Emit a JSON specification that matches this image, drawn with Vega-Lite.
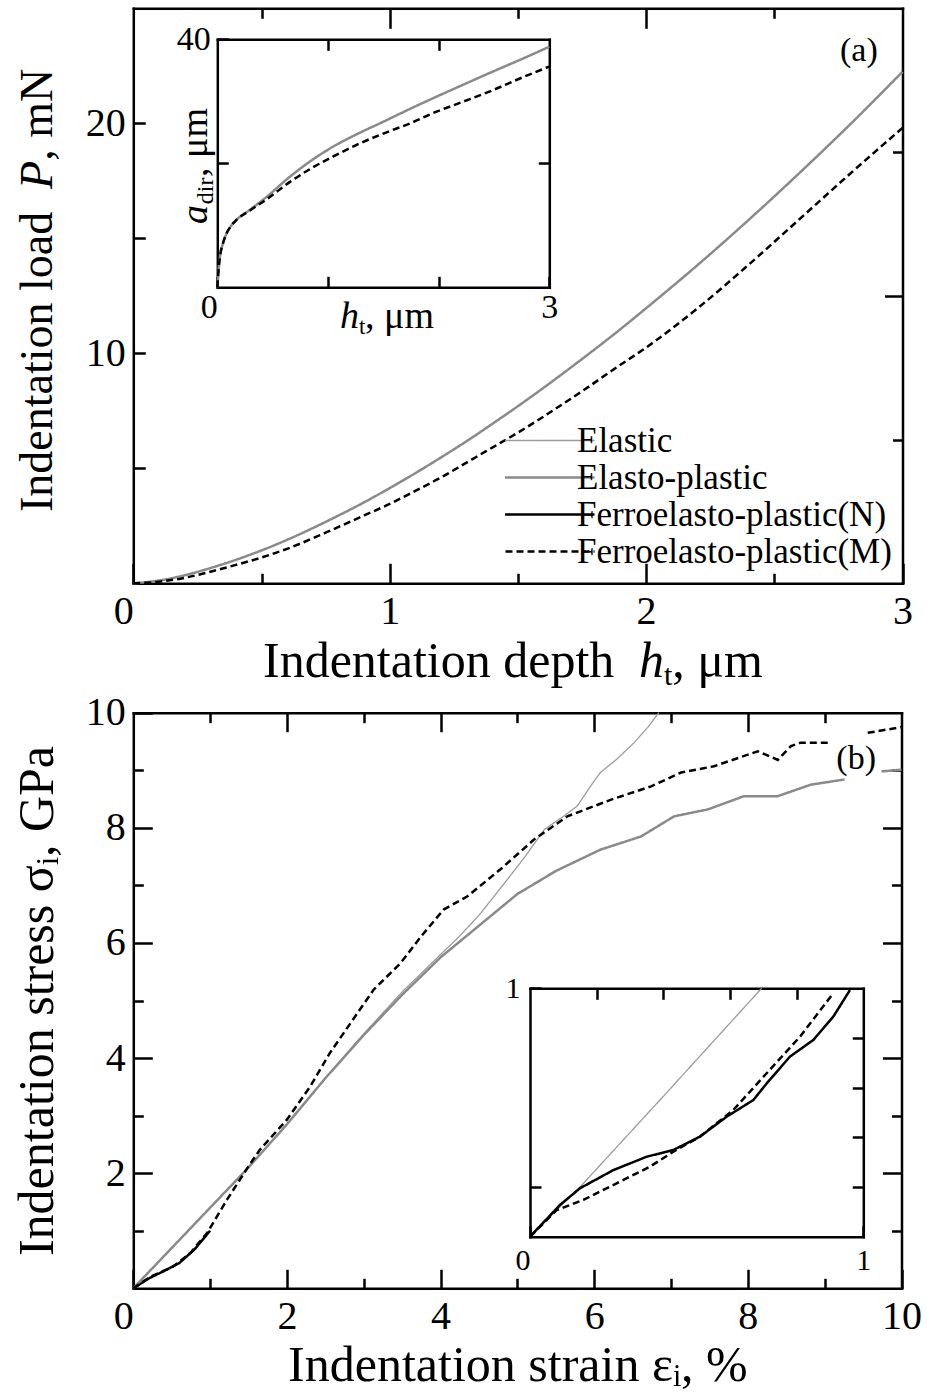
{
  "$schema": "https://vega.github.io/schema/vega-lite/v6.json",
  "width": 927,
  "height": 1393,
  "autosize": {"type": "none"},
  "padding": 0,
  "background": "white",
  "config": {
    "font": "Liberation Serif",
    "view": {"stroke": null},
    "text": {"font": "Liberation Serif", "color": "#000000", "align": "left", "baseline": "alphabetic"},
    "axis": {
      "grid": false,
      "domainColor": "#000000",
      "domainWidth": 2.5,
      "domainCap": "square",
      "tickColor": "#000000",
      "tickWidth": 2.5,
      "labelColor": "#000000",
      "titleColor": "#000000",
      "labelFont": "Liberation Serif",
      "titleFont": "Liberation Serif",
      "titleFontWeight": "normal",
      "labelOverlap": false,
      "labelFlush": false,
      "labelBound": false,
      "format": "d"
    }
  },
  "datasets": {
    "amain": [
      {"series": "Elasto-plastic", "x": 0, "y": 0},
      {"series": "Elasto-plastic", "x": 0.1, "y": 0.12},
      {"series": "Elasto-plastic", "x": 0.2, "y": 0.35},
      {"series": "Elasto-plastic", "x": 0.3, "y": 0.66},
      {"series": "Elasto-plastic", "x": 0.4, "y": 1.02},
      {"series": "Elasto-plastic", "x": 0.5, "y": 1.43},
      {"series": "Elasto-plastic", "x": 0.6, "y": 1.89},
      {"series": "Elasto-plastic", "x": 0.75, "y": 2.67},
      {"series": "Elasto-plastic", "x": 0.9, "y": 3.52},
      {"series": "Elasto-plastic", "x": 1.0, "y": 4.14},
      {"series": "Elasto-plastic", "x": 1.1, "y": 4.79},
      {"series": "Elasto-plastic", "x": 1.2, "y": 5.47},
      {"series": "Elasto-plastic", "x": 1.3, "y": 6.18},
      {"series": "Elasto-plastic", "x": 1.4, "y": 6.93},
      {"series": "Elasto-plastic", "x": 1.5, "y": 7.7},
      {"series": "Elasto-plastic", "x": 1.6, "y": 8.5},
      {"series": "Elasto-plastic", "x": 1.75, "y": 9.75},
      {"series": "Elasto-plastic", "x": 1.9, "y": 11.05},
      {"series": "Elasto-plastic", "x": 2.0, "y": 11.96},
      {"series": "Elasto-plastic", "x": 2.2, "y": 13.83},
      {"series": "Elasto-plastic", "x": 2.4, "y": 15.8},
      {"series": "Elasto-plastic", "x": 2.6, "y": 17.86},
      {"series": "Elasto-plastic", "x": 2.8, "y": 20.0},
      {"series": "Elasto-plastic", "x": 3.0, "y": 22.24},
      {"series": "Ferroelasto-plastic(M)", "x": 0, "y": 0},
      {"series": "Ferroelasto-plastic(M)", "x": 0.1, "y": 0.07},
      {"series": "Ferroelasto-plastic(M)", "x": 0.2, "y": 0.24},
      {"series": "Ferroelasto-plastic(M)", "x": 0.3, "y": 0.5},
      {"series": "Ferroelasto-plastic(M)", "x": 0.4, "y": 0.8},
      {"series": "Ferroelasto-plastic(M)", "x": 0.5, "y": 1.12},
      {"series": "Ferroelasto-plastic(M)", "x": 0.6, "y": 1.5},
      {"series": "Ferroelasto-plastic(M)", "x": 0.75, "y": 2.2},
      {"series": "Ferroelasto-plastic(M)", "x": 0.9, "y": 2.95},
      {"series": "Ferroelasto-plastic(M)", "x": 1.0, "y": 3.45},
      {"series": "Ferroelasto-plastic(M)", "x": 1.1, "y": 4.02},
      {"series": "Ferroelasto-plastic(M)", "x": 1.2, "y": 4.6},
      {"series": "Ferroelasto-plastic(M)", "x": 1.3, "y": 5.25},
      {"series": "Ferroelasto-plastic(M)", "x": 1.4, "y": 5.9},
      {"series": "Ferroelasto-plastic(M)", "x": 1.5, "y": 6.55},
      {"series": "Ferroelasto-plastic(M)", "x": 1.6, "y": 7.25},
      {"series": "Ferroelasto-plastic(M)", "x": 1.75, "y": 8.35},
      {"series": "Ferroelasto-plastic(M)", "x": 1.9, "y": 9.5},
      {"series": "Ferroelasto-plastic(M)", "x": 2.0, "y": 10.25},
      {"series": "Ferroelasto-plastic(M)", "x": 2.2, "y": 11.95},
      {"series": "Ferroelasto-plastic(M)", "x": 2.4, "y": 13.85},
      {"series": "Ferroelasto-plastic(M)", "x": 2.6, "y": 15.85},
      {"series": "Ferroelasto-plastic(M)", "x": 2.8, "y": 17.85},
      {"series": "Ferroelasto-plastic(M)", "x": 3.0, "y": 19.8}
    ],
    "ainset": [
      {"series": "Elasto-plastic", "x": 0, "y": 0},
      {"series": "Elasto-plastic", "x": 0.01, "y": 2.5},
      {"series": "Elasto-plastic", "x": 0.024, "y": 4.95},
      {"series": "Elasto-plastic", "x": 0.05, "y": 7.0},
      {"series": "Elasto-plastic", "x": 0.084, "y": 8.7},
      {"series": "Elasto-plastic", "x": 0.12, "y": 9.8},
      {"series": "Elasto-plastic", "x": 0.175, "y": 10.9},
      {"series": "Elasto-plastic", "x": 0.295, "y": 12.5},
      {"series": "Elasto-plastic", "x": 0.446, "y": 14.6},
      {"series": "Elasto-plastic", "x": 0.657, "y": 17.85},
      {"series": "Elasto-plastic", "x": 0.85, "y": 20.45},
      {"series": "Elasto-plastic", "x": 1.048, "y": 22.7},
      {"series": "Elasto-plastic", "x": 1.25, "y": 24.6},
      {"series": "Elasto-plastic", "x": 1.5, "y": 26.7},
      {"series": "Elasto-plastic", "x": 1.75, "y": 28.85},
      {"series": "Elasto-plastic", "x": 1.95, "y": 30.5},
      {"series": "Elasto-plastic", "x": 2.2, "y": 32.5},
      {"series": "Elasto-plastic", "x": 2.49, "y": 34.8},
      {"series": "Elasto-plastic", "x": 2.75, "y": 36.8},
      {"series": "Elasto-plastic", "x": 3.0, "y": 38.8},
      {"series": "Ferroelasto-plastic(M)", "x": 0, "y": 0},
      {"series": "Ferroelasto-plastic(M)", "x": 0.01, "y": 2.5},
      {"series": "Ferroelasto-plastic(M)", "x": 0.024, "y": 4.95},
      {"series": "Ferroelasto-plastic(M)", "x": 0.05, "y": 7.0},
      {"series": "Ferroelasto-plastic(M)", "x": 0.084, "y": 8.7},
      {"series": "Ferroelasto-plastic(M)", "x": 0.12, "y": 9.8},
      {"series": "Ferroelasto-plastic(M)", "x": 0.175, "y": 10.9},
      {"series": "Ferroelasto-plastic(M)", "x": 0.295, "y": 12.4},
      {"series": "Ferroelasto-plastic(M)", "x": 0.446, "y": 14.2},
      {"series": "Ferroelasto-plastic(M)", "x": 0.657, "y": 17.0},
      {"series": "Ferroelasto-plastic(M)", "x": 0.85, "y": 19.2},
      {"series": "Ferroelasto-plastic(M)", "x": 1.048, "y": 21.1},
      {"series": "Ferroelasto-plastic(M)", "x": 1.25, "y": 22.9},
      {"series": "Ferroelasto-plastic(M)", "x": 1.5, "y": 24.8},
      {"series": "Ferroelasto-plastic(M)", "x": 1.75, "y": 26.5},
      {"series": "Ferroelasto-plastic(M)", "x": 1.95, "y": 28.1},
      {"series": "Ferroelasto-plastic(M)", "x": 2.2, "y": 29.8},
      {"series": "Ferroelasto-plastic(M)", "x": 2.49, "y": 31.8},
      {"series": "Ferroelasto-plastic(M)", "x": 2.75, "y": 33.8},
      {"series": "Ferroelasto-plastic(M)", "x": 3.0, "y": 35.6}
    ],
    "bmain": [
      {"series": "Ferroelasto-plastic(N)", "x": 0, "y": 0},
      {"series": "Ferroelasto-plastic(N)", "x": 0.2, "y": 0.17},
      {"series": "Ferroelasto-plastic(N)", "x": 0.4, "y": 0.3},
      {"series": "Ferroelasto-plastic(N)", "x": 0.6, "y": 0.44},
      {"series": "Ferroelasto-plastic(N)", "x": 0.8, "y": 0.68},
      {"series": "Ferroelasto-plastic(N)", "x": 1.0, "y": 1.0},
      {"series": "Elastic", "x": 0, "y": 0},
      {"series": "Elastic", "x": 0.5, "y": 0.7},
      {"series": "Elastic", "x": 1.0, "y": 1.4},
      {"series": "Elastic", "x": 1.5, "y": 2.1},
      {"series": "Elastic", "x": 2.0, "y": 2.85},
      {"series": "Elastic", "x": 2.5, "y": 3.65},
      {"series": "Elastic", "x": 3.0, "y": 4.42},
      {"series": "Elastic", "x": 3.5, "y": 5.15},
      {"series": "Elastic", "x": 4.0, "y": 5.8},
      {"series": "Elastic", "x": 4.22, "y": 6.08},
      {"series": "Elastic", "x": 4.5, "y": 6.48},
      {"series": "Elastic", "x": 4.78, "y": 6.95},
      {"series": "Elastic", "x": 5.1, "y": 7.5},
      {"series": "Elastic", "x": 5.35, "y": 7.97},
      {"series": "Elastic", "x": 5.6, "y": 8.2},
      {"series": "Elastic", "x": 5.78, "y": 8.38},
      {"series": "Elastic", "x": 5.95, "y": 8.72},
      {"series": "Elastic", "x": 6.08, "y": 8.96},
      {"series": "Elastic", "x": 6.3, "y": 9.2},
      {"series": "Elastic", "x": 6.52, "y": 9.48},
      {"series": "Elastic", "x": 6.7, "y": 9.75},
      {"series": "Elastic", "x": 6.84, "y": 10.0},
      {"series": "Elasto-plastic", "x": 0, "y": 0},
      {"series": "Elasto-plastic", "x": 0.5, "y": 0.7},
      {"series": "Elasto-plastic", "x": 1.0, "y": 1.4},
      {"series": "Elasto-plastic", "x": 1.5, "y": 2.1},
      {"series": "Elasto-plastic", "x": 2.0, "y": 2.85},
      {"series": "Elasto-plastic", "x": 2.5, "y": 3.65},
      {"series": "Elasto-plastic", "x": 3.0, "y": 4.4},
      {"series": "Elasto-plastic", "x": 3.5, "y": 5.1},
      {"series": "Elasto-plastic", "x": 4.0, "y": 5.75},
      {"series": "Elasto-plastic", "x": 4.5, "y": 6.3},
      {"series": "Elasto-plastic", "x": 5.0, "y": 6.85},
      {"series": "Elasto-plastic", "x": 5.5, "y": 7.25},
      {"series": "Elasto-plastic", "x": 6.08, "y": 7.62},
      {"series": "Elasto-plastic", "x": 6.61, "y": 7.85},
      {"series": "Elasto-plastic", "x": 7.04, "y": 8.2},
      {"series": "Elasto-plastic", "x": 7.48, "y": 8.32},
      {"series": "Elasto-plastic", "x": 7.95, "y": 8.55},
      {"series": "Elasto-plastic", "x": 8.39, "y": 8.55},
      {"series": "Elasto-plastic", "x": 8.82, "y": 8.75},
      {"series": "Elasto-plastic", "x": 9.26, "y": 8.84},
      {"series": "Elasto-plastic", "x": 9.5, "y": null},
      {"series": "Elasto-plastic", "x": 9.74, "y": 8.98},
      {"series": "Elasto-plastic", "x": 10.0, "y": 9.01},
      {"series": "Ferroelasto-plastic(M)", "x": 0, "y": 0},
      {"series": "Ferroelasto-plastic(M)", "x": 0.22, "y": 0.2},
      {"series": "Ferroelasto-plastic(M)", "x": 0.52, "y": 0.38},
      {"series": "Ferroelasto-plastic(M)", "x": 0.74, "y": 0.61},
      {"series": "Ferroelasto-plastic(M)", "x": 0.96, "y": 0.96},
      {"series": "Ferroelasto-plastic(M)", "x": 1.22, "y": 1.54},
      {"series": "Ferroelasto-plastic(M)", "x": 1.48, "y": 2.08},
      {"series": "Ferroelasto-plastic(M)", "x": 1.65, "y": 2.41},
      {"series": "Ferroelasto-plastic(M)", "x": 2.0, "y": 2.93},
      {"series": "Ferroelasto-plastic(M)", "x": 2.3, "y": 3.5},
      {"series": "Ferroelasto-plastic(M)", "x": 2.56, "y": 4.09},
      {"series": "Ferroelasto-plastic(M)", "x": 2.85, "y": 4.65},
      {"series": "Ferroelasto-plastic(M)", "x": 3.13, "y": 5.19},
      {"series": "Ferroelasto-plastic(M)", "x": 3.48, "y": 5.65},
      {"series": "Ferroelasto-plastic(M)", "x": 3.75, "y": 6.12},
      {"series": "Ferroelasto-plastic(M)", "x": 4.04, "y": 6.58},
      {"series": "Ferroelasto-plastic(M)", "x": 4.35, "y": 6.81},
      {"series": "Ferroelasto-plastic(M)", "x": 4.78, "y": 7.28},
      {"series": "Ferroelasto-plastic(M)", "x": 5.22, "y": 7.8},
      {"series": "Ferroelasto-plastic(M)", "x": 5.65, "y": 8.2},
      {"series": "Ferroelasto-plastic(M)", "x": 6.22, "y": 8.49},
      {"series": "Ferroelasto-plastic(M)", "x": 6.74, "y": 8.72},
      {"series": "Ferroelasto-plastic(M)", "x": 7.13, "y": 8.96},
      {"series": "Ferroelasto-plastic(M)", "x": 7.56, "y": 9.07},
      {"series": "Ferroelasto-plastic(M)", "x": 8.13, "y": 9.33},
      {"series": "Ferroelasto-plastic(M)", "x": 8.39, "y": 9.18},
      {"series": "Ferroelasto-plastic(M)", "x": 8.56, "y": 9.42},
      {"series": "Ferroelasto-plastic(M)", "x": 8.69, "y": 9.48},
      {"series": "Ferroelasto-plastic(M)", "x": 9.04, "y": 9.48},
      {"series": "Ferroelasto-plastic(M)", "x": 9.3, "y": null},
      {"series": "Ferroelasto-plastic(M)", "x": 9.56, "y": 9.65},
      {"series": "Ferroelasto-plastic(M)", "x": 10.0, "y": 9.75}
    ],
    "binset": [
      {"series": "Elastic", "x": 0, "y": 0},
      {"series": "Elastic", "x": 0.15, "y": 0.2},
      {"series": "Elastic", "x": 0.4, "y": 0.565},
      {"series": "Elastic", "x": 0.695, "y": 1.0},
      {"series": "Ferroelasto-plastic(N)", "x": 0, "y": 0},
      {"series": "Ferroelasto-plastic(N)", "x": 0.09, "y": 0.128},
      {"series": "Ferroelasto-plastic(N)", "x": 0.15, "y": 0.195},
      {"series": "Ferroelasto-plastic(N)", "x": 0.25, "y": 0.268},
      {"series": "Ferroelasto-plastic(N)", "x": 0.35, "y": 0.322},
      {"series": "Ferroelasto-plastic(N)", "x": 0.43, "y": 0.349},
      {"series": "Ferroelasto-plastic(N)", "x": 0.51, "y": 0.403},
      {"series": "Ferroelasto-plastic(N)", "x": 0.59, "y": 0.483},
      {"series": "Ferroelasto-plastic(N)", "x": 0.67, "y": 0.55},
      {"series": "Ferroelasto-plastic(N)", "x": 0.71, "y": 0.617},
      {"series": "Ferroelasto-plastic(N)", "x": 0.78, "y": 0.725},
      {"series": "Ferroelasto-plastic(N)", "x": 0.85, "y": 0.792},
      {"series": "Ferroelasto-plastic(N)", "x": 0.91, "y": 0.886},
      {"series": "Ferroelasto-plastic(N)", "x": 0.96, "y": 0.993},
      {"series": "Ferroelasto-plastic(M)", "x": 0, "y": 0},
      {"series": "Ferroelasto-plastic(M)", "x": 0.08, "y": 0.107},
      {"series": "Ferroelasto-plastic(M)", "x": 0.16, "y": 0.148},
      {"series": "Ferroelasto-plastic(M)", "x": 0.26, "y": 0.215},
      {"series": "Ferroelasto-plastic(M)", "x": 0.36, "y": 0.282},
      {"series": "Ferroelasto-plastic(M)", "x": 0.43, "y": 0.342},
      {"series": "Ferroelasto-plastic(M)", "x": 0.51, "y": 0.403},
      {"series": "Ferroelasto-plastic(M)", "x": 0.61, "y": 0.51},
      {"series": "Ferroelasto-plastic(M)", "x": 0.71, "y": 0.658},
      {"series": "Ferroelasto-plastic(M)", "x": 0.81, "y": 0.805},
      {"series": "Ferroelasto-plastic(M)", "x": 0.91, "y": 0.98}
    ]
  },
  "resolve": {"scale": {"x": "independent", "y": "independent"}},
  "layer": [
    {
      "layer": [
        {
          "data": {"name": "amain"},
          "mark": {"type": "line", "interpolate": "monotone", "invalid": "break-paths-show-domains"},
          "encoding": {
            "x": {"field": "x", "type": "quantitative",
              "scale": {"domain": [0, 3], "range": [133.3, 902.5], "nice": false, "zero": false},
              "axis": {"orient": "bottom", "offset": -809.7, "values": [0, 1, 2, 3], "tickSize": -20, "format": "d",
                "labelFontSize": 40, "labelPadding": 60, "labelBaseline": "alphabetic",
                "labelAlign": {"condition": {"test": "datum.value === 0", "value": "right"}, "value": "center"},
                "title": null}},
            "y": {"field": "y", "type": "quantitative",
              "scale": {"domain": [0, 25], "range": [583.3, 8.3], "nice": false, "zero": false},
              "axis": {"orient": "left", "offset": -133.3, "values": [5, 10, 15, 20], "tickSize": -12, "format": "d",
                "labelFontSize": 40, "labelPadding": 20,
                "labelExpr": "datum.value % 10 === 0 ? datum.label : ''",
                "title": null}},
            "color": {"field": "series", "type": "nominal",
              "scale": {"domain": ["Elastic", "Elasto-plastic", "Ferroelasto-plastic(N)", "Ferroelasto-plastic(M)"],
                "range": ["#9c9c9c", "#8a8a8a", "#000000", "#000000"]},
              "legend": {"orient": "none", "legendX": 505, "legendY": 422, "title": null,
                "symbolType": "stroke", "symbolSize": 20736, "symbolStrokeWidth": 2.5,
                "labelFontSize": 35, "labelFont": "Liberation Serif", "labelColor": "#000000",
                "labelOffset": 37, "clipHeight": 37, "rowPadding": 0, "padding": 0, "labelLimit": 0,
                "encode": {"symbols": {"update": {"strokeWidth": {"signal": "datum.value === 'Elastic' ? 1.3 : 2.5"}}}}}},
            "strokeDash": {"field": "series", "type": "nominal",
              "scale": {"domain": ["Elastic", "Elasto-plastic", "Ferroelasto-plastic(N)", "Ferroelasto-plastic(M)"],
                "range": [[1, 0], [1, 0], [1, 0], [7, 4]]}},
            "strokeWidth": {"condition": {"test": "datum.series === 'Elastic'", "value": 1.3}, "value": 2.5}
          }
        },
        {
          "data": {"values": [{}]},
          "mark": {"type": "text", "text": "(a)", "fontSize": 34, "align": "center", "baseline": "middle"},
          "encoding": {
            "x": {"datum": 2.83, "type": "quantitative", "scale": {"domain": [0, 3], "range": [133.3, 902.5], "nice": false, "zero": false}},
            "y": {"datum": 23.14, "type": "quantitative", "scale": {"domain": [0, 25], "range": [583.3, 8.3], "nice": false, "zero": false}}
          }
        },
        {
          "data": {"values": [{}]},
          "mark": {"type": "text", "text": "Indentation depth", "fontSize": 50},
          "encoding": {
            "x": {"datum": 0.5059, "type": "quantitative", "scale": {"domain": [0, 3], "range": [133.3, 902.5], "nice": false, "zero": false}},
            "y": {"datum": -4.074, "type": "quantitative", "scale": {"domain": [0, 25], "range": [583.3, 8.3], "nice": false, "zero": false}}
          }
        },
        {
          "data": {"values": [{}]},
          "mark": {"type": "text", "text": "h", "fontSize": 50, "fontStyle": "italic"},
          "encoding": {
            "x": {"datum": 1.972, "type": "quantitative", "scale": {"domain": [0, 3], "range": [133.3, 902.5], "nice": false, "zero": false}},
            "y": {"datum": -4.074, "type": "quantitative", "scale": {"domain": [0, 25], "range": [583.3, 8.3], "nice": false, "zero": false}}
          }
        },
        {
          "data": {"values": [{}]},
          "mark": {"type": "text", "text": "t", "fontSize": 30},
          "encoding": {
            "x": {"datum": 2.07, "type": "quantitative", "scale": {"domain": [0, 3], "range": [133.3, 902.5], "nice": false, "zero": false}},
            "y": {"datum": -4.422, "type": "quantitative", "scale": {"domain": [0, 25], "range": [583.3, 8.3], "nice": false, "zero": false}}
          }
        },
        {
          "data": {"values": [{}]},
          "mark": {"type": "text", "text": ", μm", "fontSize": 50},
          "encoding": {
            "x": {"datum": 2.102, "type": "quantitative", "scale": {"domain": [0, 3], "range": [133.3, 902.5], "nice": false, "zero": false}},
            "y": {"datum": -4.074, "type": "quantitative", "scale": {"domain": [0, 25], "range": [583.3, 8.3], "nice": false, "zero": false}}
          }
        },
        {
          "data": {"values": [{}]},
          "mark": {"type": "text", "text": "Indentation load", "fontSize": 46, "angle": 270},
          "encoding": {
            "x": {"datum": -0.3171, "type": "quantitative", "scale": {"domain": [0, 3], "range": [133.3, 902.5], "nice": false, "zero": false}},
            "y": {"datum": 3.1, "type": "quantitative", "scale": {"domain": [0, 25], "range": [583.3, 8.3], "nice": false, "zero": false}}
          }
        },
        {
          "data": {"values": [{}]},
          "mark": {"type": "text", "text": "P", "fontSize": 46, "fontStyle": "italic", "angle": 270},
          "encoding": {
            "x": {"datum": -0.3171, "type": "quantitative", "scale": {"domain": [0, 3], "range": [133.3, 902.5], "nice": false, "zero": false}},
            "y": {"datum": 17.14, "type": "quantitative", "scale": {"domain": [0, 25], "range": [583.3, 8.3], "nice": false, "zero": false}}
          }
        },
        {
          "data": {"values": [{}]},
          "mark": {"type": "text", "text": ", mN", "fontSize": 46, "angle": 270},
          "encoding": {
            "x": {"datum": -0.3171, "type": "quantitative", "scale": {"domain": [0, 3], "range": [133.3, 902.5], "nice": false, "zero": false}},
            "y": {"datum": 18.37, "type": "quantitative", "scale": {"domain": [0, 25], "range": [583.3, 8.3], "nice": false, "zero": false}}
          }
        }
      ]
    },
    {
      "data": {"name": "amain"},
      "mark": {"type": "point", "opacity": 0},
      "encoding": {
        "x": {"field": "x", "type": "quantitative",
          "scale": {"domain": [0, 3], "range": [133.3, 902.5], "nice": false, "zero": false},
          "axis": {"orient": "bottom", "offset": -809.7, "values": [0.5, 1.5, 2.5], "tickSize": -10, "labels": false, "domain": false, "title": null}},
        "y": {"field": "y", "type": "quantitative",
          "scale": {"domain": [0, 25], "range": [583.3, 8.3], "nice": false, "zero": false}, "axis": null}
      }
    },
    {
      "data": {"name": "amain"},
      "mark": {"type": "point", "opacity": 0},
      "encoding": {
        "x": {"field": "x", "type": "quantitative",
          "scale": {"domain": [0, 3], "range": [133.3, 902.5], "nice": false, "zero": false},
          "axis": {"orient": "top", "offset": -8.3, "values": [1, 2], "tickSize": -20, "labels": false, "title": null}},
        "y": {"field": "y", "type": "quantitative",
          "scale": {"domain": [0, 4], "range": [583.3, 8.3], "nice": false, "zero": false},
          "axis": {"orient": "right", "offset": -24.5, "values": [2], "tickSize": -18, "labels": false, "title": null}}
      }
    },
    {
      "data": {"name": "amain"},
      "mark": {"type": "point", "opacity": 0},
      "encoding": {
        "x": {"field": "x", "type": "quantitative",
          "scale": {"domain": [0, 3], "range": [133.3, 902.5], "nice": false, "zero": false},
          "axis": {"orient": "top", "offset": -8.3, "values": [0.5, 1.5, 2.5], "tickSize": -10, "labels": false, "domain": false, "title": null}},
        "y": {"field": "y", "type": "quantitative",
          "scale": {"domain": [0, 4], "range": [583.3, 8.3], "nice": false, "zero": false},
          "axis": {"orient": "right", "offset": -24.5, "values": [1, 3], "tickSize": -10, "labels": false, "domain": false, "title": null}}
      }
    },
    {
      "layer": [
        {
          "data": {"name": "ainset"},
          "mark": {"type": "line", "interpolate": "monotone", "invalid": "break-paths-show-domains"},
          "encoding": {
            "x": {"field": "x", "type": "quantitative",
              "scale": {"domain": [0, 3], "range": [217.3, 549.3], "nice": false, "zero": false},
              "axis": {"orient": "bottom", "offset": -1105.7, "values": [0, 1, 2, 3], "tickSize": -11, "format": "d",
                "labelFontSize": 34, "labelPadding": 41, "labelBaseline": "alphabetic",
                "labelExpr": "datum.value === 0 || datum.value === 3 ? datum.label : ''",
                "labelAlign": {"condition": {"test": "datum.value === 0", "value": "right"}, "value": "center"},
                "title": null}},
            "y": {"field": "y", "type": "quantitative",
              "scale": {"domain": [0, 40], "range": [287.3, 39.3], "nice": false, "zero": false},
              "axis": {"orient": "left", "offset": -217.3, "values": [20, 40], "tickSize": -11, "format": "d",
                "labelFontSize": 34, "labelPadding": 18,
                "labelExpr": "datum.value === 40 ? datum.label : ''", "title": null}},
            "color": {"field": "series", "type": "nominal",
              "scale": {"domain": ["Elastic", "Elasto-plastic", "Ferroelasto-plastic(N)", "Ferroelasto-plastic(M)"],
                "range": ["#9c9c9c", "#8a8a8a", "#000000", "#000000"]}, "legend": null},
            "strokeDash": {"field": "series", "type": "nominal",
              "scale": {"domain": ["Elastic", "Elasto-plastic", "Ferroelasto-plastic(N)", "Ferroelasto-plastic(M)"],
                "range": [[1, 0], [1, 0], [1, 0], [7, 4]]}, "legend": null},
            "strokeWidth": {"condition": {"test": "datum.series === 'Elastic'", "value": 1.3}, "value": 2.5}
          }
        },
        {
          "data": {"values": [{}]},
          "mark": {"type": "text", "text": "h", "fontSize": 38, "fontStyle": "italic"},
          "encoding": {
            "x": {"datum": 1.109, "type": "quantitative", "scale": {"domain": [0, 3], "range": [217.3, 549.3], "nice": false, "zero": false}},
            "y": {"datum": -6.565, "type": "quantitative", "scale": {"domain": [0, 40], "range": [287.3, 39.3], "nice": false, "zero": false}}
          }
        },
        {
          "data": {"values": [{}]},
          "mark": {"type": "text", "text": "t", "fontSize": 23},
          "encoding": {
            "x": {"datum": 1.28, "type": "quantitative", "scale": {"domain": [0, 3], "range": [217.3, 549.3], "nice": false, "zero": false}},
            "y": {"datum": -7.53, "type": "quantitative", "scale": {"domain": [0, 40], "range": [287.3, 39.3], "nice": false, "zero": false}}
          }
        },
        {
          "data": {"values": [{}]},
          "mark": {"type": "text", "text": ", μm", "fontSize": 38},
          "encoding": {
            "x": {"datum": 1.335, "type": "quantitative", "scale": {"domain": [0, 3], "range": [217.3, 549.3], "nice": false, "zero": false}},
            "y": {"datum": -6.565, "type": "quantitative", "scale": {"domain": [0, 40], "range": [287.3, 39.3], "nice": false, "zero": false}}
          }
        },
        {
          "data": {"values": [{}]},
          "mark": {"type": "text", "text": "a", "fontSize": 38, "fontStyle": "italic", "angle": 270},
          "encoding": {
            "x": {"datum": -0.093, "type": "quantitative", "scale": {"domain": [0, 3], "range": [217.3, 549.3], "nice": false, "zero": false}},
            "y": {"datum": 10.2, "type": "quantitative", "scale": {"domain": [0, 40], "range": [287.3, 39.3], "nice": false, "zero": false}}
          }
        },
        {
          "data": {"values": [{}]},
          "mark": {"type": "text", "text": "dir", "fontSize": 24, "angle": 270},
          "encoding": {
            "x": {"datum": -0.039, "type": "quantitative", "scale": {"domain": [0, 3], "range": [217.3, 549.3], "nice": false, "zero": false}},
            "y": {"datum": 13.4, "type": "quantitative", "scale": {"domain": [0, 40], "range": [287.3, 39.3], "nice": false, "zero": false}}
          }
        },
        {
          "data": {"values": [{}]},
          "mark": {"type": "text", "text": ", μm", "fontSize": 38, "angle": 270},
          "encoding": {
            "x": {"datum": -0.093, "type": "quantitative", "scale": {"domain": [0, 3], "range": [217.3, 549.3], "nice": false, "zero": false}},
            "y": {"datum": 17.8, "type": "quantitative", "scale": {"domain": [0, 40], "range": [287.3, 39.3], "nice": false, "zero": false}}
          }
        }
      ]
    },
    {
      "data": {"name": "ainset"},
      "mark": {"type": "point", "opacity": 0},
      "encoding": {
        "x": {"field": "x", "type": "quantitative",
          "scale": {"domain": [0, 3], "range": [217.3, 549.3], "nice": false, "zero": false},
          "axis": {"orient": "top", "offset": -39.3, "values": [1, 2], "tickSize": -11, "labels": false, "title": null}},
        "y": {"field": "y", "type": "quantitative",
          "scale": {"domain": [0, 40], "range": [287.3, 39.3], "nice": false, "zero": false},
          "axis": {"orient": "right", "offset": -377.7, "values": [20], "tickSize": -11, "labels": false, "title": null}}
      }
    },
    {
      "layer": [
        {
          "data": {"name": "bmain"},
          "mark": {"type": "line", "invalid": "break-paths-show-domains"},
          "encoding": {
            "x": {"field": "x", "type": "quantitative",
              "scale": {"domain": [0, 10], "range": [133.3, 901.5], "nice": false, "zero": false},
              "axis": {"orient": "bottom", "offset": -104.7, "values": [0, 2, 4, 6, 8, 10], "tickSize": -19, "format": "d",
                "labelFontSize": 40, "labelPadding": 59, "labelBaseline": "alphabetic",
                "labelAlign": {"condition": {"test": "datum.value === 0", "value": "right"}, "value": "center"},
                "title": "Indentation strain  εᵢ, %", "titleFontSize": 50, "titleY": 92, "titleBaseline": "alphabetic"}},
            "y": {"field": "y", "type": "quantitative",
              "scale": {"domain": [0, 10], "range": [1288.3, 712.7], "nice": false, "zero": false},
              "axis": {"orient": "left", "offset": -133.3, "values": [2, 4, 6, 8, 10], "tickSize": -19, "format": "d",
                "labelFontSize": 40, "labelPadding": 27,
                "title": "Indentation stress  σᵢ, GPa", "titleFontSize": 50, "titleX": -81, "titleBaseline": "alphabetic", "titleAngle": 270}},
            "color": {"field": "series", "type": "nominal",
              "scale": {"domain": ["Elastic", "Elasto-plastic", "Ferroelasto-plastic(N)", "Ferroelasto-plastic(M)"],
                "range": ["#9c9c9c", "#8a8a8a", "#000000", "#000000"]}, "legend": null},
            "strokeDash": {"field": "series", "type": "nominal",
              "scale": {"domain": ["Elastic", "Elasto-plastic", "Ferroelasto-plastic(N)", "Ferroelasto-plastic(M)"],
                "range": [[1, 0], [1, 0], [1, 0], [7, 4]]}, "legend": null},
            "strokeWidth": {"condition": {"test": "datum.series === 'Elastic'", "value": 1.3}, "value": 2.5}
          }
        },
        {
          "data": {"values": [{}]},
          "mark": {"type": "text", "text": "(b)", "fontSize": 34, "align": "center", "baseline": "middle"},
          "encoding": {
            "x": {"datum": 9.41, "type": "quantitative", "scale": {"domain": [0, 10], "range": [133.3, 901.5], "nice": false, "zero": false}},
            "y": {"datum": 9.19, "type": "quantitative", "scale": {"domain": [0, 10], "range": [1288.3, 712.7], "nice": false, "zero": false}}
          }
        }
      ]
    },
    {
      "data": {"name": "bmain"},
      "mark": {"type": "point", "opacity": 0},
      "encoding": {
        "x": {"field": "x", "type": "quantitative",
          "scale": {"domain": [0, 10], "range": [133.3, 901.5], "nice": false, "zero": false},
          "axis": {"orient": "bottom", "offset": -104.7, "values": [1, 3, 5, 7, 9], "tickSize": -10, "labels": false, "domain": false, "title": null}},
        "y": {"field": "y", "type": "quantitative",
          "scale": {"domain": [0, 10], "range": [1288.3, 712.7], "nice": false, "zero": false},
          "axis": {"orient": "left", "offset": -133.3, "values": [1, 3, 5, 7, 9], "tickSize": -10, "labels": false, "domain": false, "title": null}}
      }
    },
    {
      "data": {"name": "bmain"},
      "mark": {"type": "point", "opacity": 0},
      "encoding": {
        "x": {"field": "x", "type": "quantitative",
          "scale": {"domain": [0, 10], "range": [133.3, 901.5], "nice": false, "zero": false},
          "axis": {"orient": "top", "offset": -712.7, "values": [2, 4, 6, 8], "tickSize": -19, "labels": false, "title": null}},
        "y": {"field": "y", "type": "quantitative",
          "scale": {"domain": [0, 10], "range": [1288.3, 712.7], "nice": false, "zero": false},
          "axis": {"orient": "right", "offset": -25.5, "values": [2, 4, 6, 8], "tickSize": -19, "labels": false, "title": null}}
      }
    },
    {
      "data": {"name": "bmain"},
      "mark": {"type": "point", "opacity": 0},
      "encoding": {
        "x": {"field": "x", "type": "quantitative",
          "scale": {"domain": [0, 10], "range": [133.3, 901.5], "nice": false, "zero": false},
          "axis": {"orient": "top", "offset": -712.7, "values": [1, 3, 5, 7, 9], "tickSize": -10, "labels": false, "domain": false, "title": null}},
        "y": {"field": "y", "type": "quantitative",
          "scale": {"domain": [0, 10], "range": [1288.3, 712.7], "nice": false, "zero": false},
          "axis": {"orient": "right", "offset": -25.5, "values": [1, 3, 5, 7, 9], "tickSize": -10, "labels": false, "domain": false, "title": null}}
      }
    },
    {
      "data": {"name": "binset"},
      "mark": {"type": "line", "invalid": "break-paths-show-domains"},
      "encoding": {
        "x": {"field": "x", "type": "quantitative",
          "scale": {"domain": [0, 1], "range": [530, 863.3], "nice": false, "zero": false},
          "axis": {"orient": "bottom", "offset": -156.3, "values": [0, 0.2, 0.4, 0.6, 0.8, 1], "tickSize": -11, "format": "d",
            "labelFontSize": 30, "labelPadding": 44, "labelBaseline": "alphabetic",
            "labelExpr": "datum.value === 0 || datum.value === 1 ? datum.label : ''",
            "labelAlign": {"condition": {"test": "datum.value === 0", "value": "right"}, "value": "center"},
            "title": null}},
        "y": {"field": "y", "type": "quantitative",
          "scale": {"domain": [0, 1], "range": [1236.7, 988.3], "nice": false, "zero": false},
          "axis": {"orient": "left", "offset": -530, "values": [0.2, 0.4, 0.6, 0.8, 1], "tickSize": -11, "format": "d",
            "labelFontSize": 30, "labelPadding": 21,
            "labelExpr": "datum.value === 1 ? datum.label : ''", "title": null}},
        "color": {"field": "series", "type": "nominal",
          "scale": {"domain": ["Elastic", "Elasto-plastic", "Ferroelasto-plastic(N)", "Ferroelasto-plastic(M)"],
            "range": ["#9c9c9c", "#8a8a8a", "#000000", "#000000"]}, "legend": null},
        "strokeDash": {"field": "series", "type": "nominal",
          "scale": {"domain": ["Elastic", "Elasto-plastic", "Ferroelasto-plastic(N)", "Ferroelasto-plastic(M)"],
            "range": [[1, 0], [1, 0], [1, 0], [7, 4]]}, "legend": null},
        "strokeWidth": {"condition": {"test": "datum.series === 'Elastic'", "value": 1.3}, "value": 2.5}
      }
    },
    {
      "data": {"name": "binset"},
      "mark": {"type": "point", "opacity": 0},
      "encoding": {
        "x": {"field": "x", "type": "quantitative",
          "scale": {"domain": [0, 1], "range": [530, 863.3], "nice": false, "zero": false},
          "axis": {"orient": "top", "offset": -988.3, "values": [0.2, 0.4, 0.6, 0.8], "tickSize": -11, "labels": false, "title": null}},
        "y": {"field": "y", "type": "quantitative",
          "scale": {"domain": [0, 1], "range": [1236.7, 988.3], "nice": false, "zero": false},
          "axis": {"orient": "right", "offset": -63.7, "values": [0.2, 0.4, 0.6, 0.8], "tickSize": -11, "labels": false, "title": null}}
      }
    }
  ]
}
